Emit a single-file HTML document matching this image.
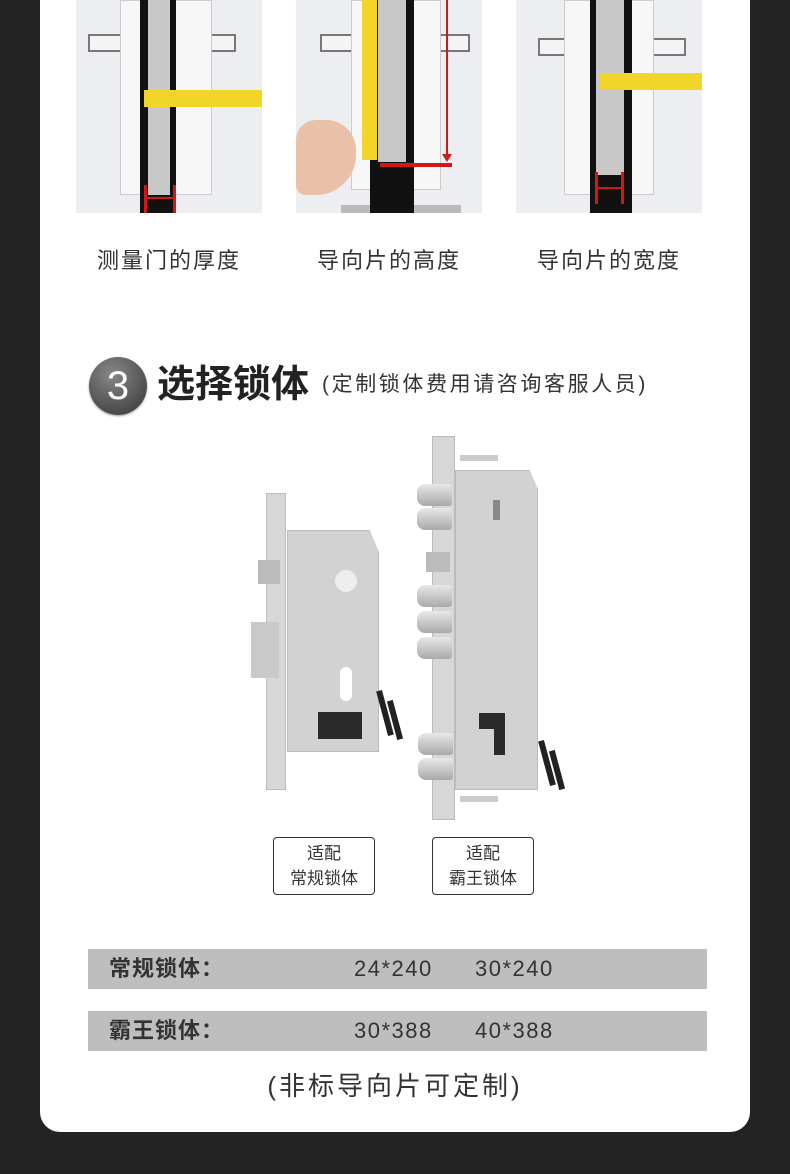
<!DOCTYPE html>
<html><head><meta charset="utf-8"><style>
*{margin:0;padding:0;box-sizing:border-box}
body{width:790px;height:1174px;background:#232323;position:relative;overflow:hidden;font-family:"Liberation Sans","Noto Sans CJK SC",sans-serif;color:#333}
.a{position:absolute}
.card{left:40px;top:-20px;width:710px;height:1152px;background:#fff;border-radius:20px}
.ph{background:#eceef1;overflow:hidden}
.cap{font-size:22px;letter-spacing:2px;color:#333;top:243px;width:186px;text-align:center}
.bar{left:88px;width:619px;height:40px;background:#bebebe;font-size:21px;color:#333;line-height:40px}
.box{border:1px solid #333;border-radius:4px;width:102px;height:58px;font-size:17px;text-align:center;line-height:25px;padding-top:3px;color:#333}
.bolt{background:linear-gradient(#e8e8e8,#a9a9a9);border-radius:8px 3px 3px 8px}
.num{font-size:22px;letter-spacing:1.5px}
</style></head><body>
<div class="a card"></div>

<div class="a ph" style="left:76px;top:0;width:186px;height:213px">
 <div class="a" style="left:12px;top:34px;width:40px;height:18px;border:2px solid #777;background:#f4f4f4"></div>
 <div class="a" style="left:128px;top:34px;width:32px;height:18px;border:2px solid #777;background:#f4f4f4"></div>
 <div class="a" style="left:44px;top:0;width:92px;height:195px;background:#f7f7f7;border:1px solid #ccc"></div>
 <div class="a" style="left:64px;top:0;width:36px;height:213px;background:#111"></div>
 <div class="a" style="left:72px;top:0;width:22px;height:195px;background:#c8c8c8"></div>
 <div class="a" style="left:68px;top:90px;width:118px;height:17px;background:#f1d629"></div>
 <div class="a" style="left:68px;top:185px;width:3px;height:28px;background:#d01818"></div>
 <div class="a" style="left:97px;top:185px;width:3px;height:28px;background:#d01818"></div>
 <div class="a" style="left:71px;top:197px;width:26px;height:2px;background:#d01818"></div>
</div>
<div class="a ph" style="left:296px;top:0;width:186px;height:213px">
 <div class="a" style="left:24px;top:34px;width:40px;height:18px;border:2px solid #777;background:#f4f4f4"></div>
 <div class="a" style="left:140px;top:34px;width:34px;height:18px;border:2px solid #777;background:#f4f4f4"></div>
 <div class="a" style="left:55px;top:0;width:90px;height:190px;background:#f7f7f7;border:1px solid #ccc"></div>
 <div class="a" style="left:45px;top:205px;width:120px;height:8px;background:#bbb"></div>
 <div class="a" style="left:74px;top:0;width:44px;height:213px;background:#111"></div>
 <div class="a" style="left:82px;top:0;width:28px;height:162px;background:#c8c8c8"></div>
 <div class="a" style="left:66px;top:0;width:15px;height:160px;background:#f1d629"></div>
 <div class="a" style="left:150px;top:0;width:2px;height:158px;background:#d01818"></div>
 <div class="a" style="left:146px;top:154px;width:0;height:0;border-left:5px solid transparent;border-right:5px solid transparent;border-top:8px solid #d01818"></div>
 <div class="a" style="left:84px;top:163px;width:72px;height:4px;background:#d01818"></div>
 <div class="a" style="left:0;top:120px;width:60px;height:75px;background:#e9c1a8;border-radius:20px 30px 40px 10px"></div>
</div>
<div class="a ph" style="left:516px;top:0;width:186px;height:213px">
 <div class="a" style="left:22px;top:38px;width:30px;height:18px;border:2px solid #777;background:#f4f4f4"></div>
 <div class="a" style="left:134px;top:38px;width:36px;height:18px;border:2px solid #777;background:#f4f4f4"></div>
 <div class="a" style="left:48px;top:0;width:90px;height:195px;background:#f7f7f7;border:1px solid #ccc"></div>
 <div class="a" style="left:74px;top:0;width:42px;height:213px;background:#111"></div>
 <div class="a" style="left:80px;top:0;width:28px;height:175px;background:#c8c8c8"></div>
 <div class="a" style="left:84px;top:73px;width:102px;height:17px;background:#f1d629"></div>
 <div class="a" style="left:79px;top:172px;width:3px;height:32px;background:#d01818"></div>
 <div class="a" style="left:105px;top:172px;width:3px;height:32px;background:#d01818"></div>
 <div class="a" style="left:82px;top:187px;width:23px;height:2px;background:#d01818"></div>
</div>

<div class="a cap" style="left:76px">测量门的厚度</div>
<div class="a cap" style="left:296px">导向片的高度</div>
<div class="a cap" style="left:516px">导向片的宽度</div>

<div class="a" style="left:89px;top:357px;width:58px;height:58px;border-radius:50%;background:radial-gradient(circle at 40% 30%,#888,#333);box-shadow:0 1px 2px #999;color:#fff;font-size:40px;text-align:center;line-height:58px">3</div>
<div class="a" style="left:157px;top:361px;font-size:38px;font-weight:bold;color:#222;line-height:48px">选择锁体</div>
<div class="a" style="left:322px;top:370px;font-size:21px;letter-spacing:2.6px;color:#333;line-height:30px">(定制锁体费用请咨询客服人员)</div>

<div class="a" style="left:266px;top:493px;width:20px;height:297px;background:#d7d7d7;border:1px solid #bbb"></div>
<div class="a" style="left:287px;top:530px;width:92px;height:222px;background:#d2d2d2;border:1px solid #bbb;clip-path:polygon(0 0,90% 0,100% 10%,100% 100%,0 100%)"></div>
<div class="a" style="left:258px;top:560px;width:22px;height:24px;background:#bbb"></div>
<div class="a" style="left:251px;top:622px;width:28px;height:56px;background:#c9c9c9"></div>
<div class="a" style="left:318px;top:712px;width:44px;height:27px;background:#2a2a2a"></div>
<div class="a" style="left:340px;top:667px;width:12px;height:34px;background:#fff;border-radius:6px"></div>
<div class="a" style="left:335px;top:570px;width:22px;height:22px;background:#eee;border-radius:50%"></div>
<div class="a" style="left:382px;top:690px;width:6px;height:46px;background:#222;transform:rotate(-15deg)"></div>
<div class="a" style="left:392px;top:700px;width:6px;height:40px;background:#222;transform:rotate(-15deg)"></div>

<div class="a" style="left:432px;top:436px;width:23px;height:384px;background:#d7d7d7;border:1px solid #bbb"></div>
<div class="a" style="left:455px;top:470px;width:83px;height:320px;background:#d2d2d2;border:1px solid #bbb;clip-path:polygon(0 0,90% 0,100% 6%,100% 100%,0 100%)"></div>
<div class="a" style="left:460px;top:455px;width:38px;height:6px;background:#ccc"></div>
<div class="a" style="left:460px;top:796px;width:38px;height:6px;background:#ccc"></div>
<div class="a bolt" style="left:417px;top:484px;width:35px;height:22px"></div>
<div class="a bolt" style="left:417px;top:508px;width:35px;height:22px"></div>
<div class="a" style="left:426px;top:552px;width:24px;height:20px;background:#bbb"></div>
<div class="a bolt" style="left:417px;top:585px;width:35px;height:22px"></div>
<div class="a bolt" style="left:417px;top:611px;width:35px;height:22px"></div>
<div class="a bolt" style="left:417px;top:637px;width:35px;height:22px"></div>
<div class="a bolt" style="left:418px;top:733px;width:35px;height:22px"></div>
<div class="a bolt" style="left:418px;top:758px;width:35px;height:22px"></div>
<div class="a" style="left:479px;top:713px;width:26px;height:16px;background:#2a2a2a"></div>
<div class="a" style="left:494px;top:713px;width:11px;height:42px;background:#2a2a2a"></div>
<div class="a" style="left:493px;top:500px;width:7px;height:20px;background:#888"></div>
<div class="a" style="left:544px;top:740px;width:6px;height:46px;background:#222;transform:rotate(-15deg)"></div>
<div class="a" style="left:554px;top:750px;width:6px;height:40px;background:#222;transform:rotate(-15deg)"></div>

<div class="a box" style="left:273px;top:837px">适配<br>常规锁体</div>
<div class="a box" style="left:432px;top:837px">适配<br>霸王锁体</div>

<div class="a bar" style="top:949px"><span class="a" style="left:21px;font-weight:bold;font-size:22px;letter-spacing:1px">常规锁体：</span><span class="a num" style="left:266px">24*240</span><span class="a num" style="left:387px">30*240</span></div>
<div class="a bar" style="top:1011px"><span class="a" style="left:21px;font-weight:bold;font-size:22px;letter-spacing:1px">霸王锁体：</span><span class="a num" style="left:266px">30*388</span><span class="a num" style="left:387px">40*388</span></div>
<div class="a" style="left:0;width:790px;top:1066px;text-align:center;font-size:26px;letter-spacing:3px;color:#333">(非标导向片可定制)</div>
</body></html>
